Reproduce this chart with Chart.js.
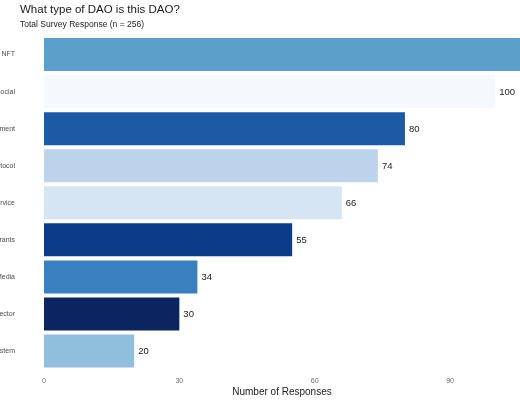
<!DOCTYPE html>
<html>
<head>
<meta charset="utf-8">
<script src="https://cdn.jsdelivr.net/npm/chart.js@4.4.1/dist/chart.umd.min.js"></script>
<style>
  html, body { margin: 0; padding: 0; background: #ffffff; overflow: hidden; }
  #wrap { position: relative; width: 520px; height: 400px; }
</style>
</head>
<body>
<div id="wrap"><canvas id="c" width="520" height="400"></canvas></div>
<script>
const categories = ["NFT", "Social", "Investment", "Protocol", "Service", "Grants", "Media", "Collector", "Ecosystem"];
const responses = [118, 100, 80, 74, 66, 55, 34, 30, 20];
const xTicks = [0, 30, 60, 90];
const barColors = ["#5b9fcb", "#f5f9fe", "#1c5aa5", "#bcd3eb", "#d5e5f4", "#0c3b89", "#3a7fbe", "#0b2560", "#90bfdd"];
const titleText = "What type of DAO is this DAO?";
const subtitleText = "Total Survey Response (n = 256)";

const FONT = "'Liberation Sans', Arial, Helvetica, sans-serif";

const headerPlugin = {
  id: 'header',
  afterDraw(chart) {
    const ctx = chart.ctx;
    ctx.save();
    ctx.textAlign = 'left';
    ctx.textBaseline = 'alphabetic';
    ctx.fillStyle = '#1a1a1a';
    ctx.font = "11.5px " + FONT;
    ctx.fillText(titleText, 20, 12.5);
    ctx.fillStyle = '#222222';
    ctx.font = "8.5px " + FONT;
    ctx.fillText(subtitleText, 20, 27);
    ctx.restore();
  }
};

const valueLabelPlugin = {
  id: 'valueLabels',
  afterDatasetsDraw(chart) {
    const ctx = chart.ctx;
    const area = chart.chartArea;
    const meta = chart.getDatasetMeta(0);
    ctx.save();
    ctx.font = "9.5px " + FONT;
    ctx.fillStyle = '#1a1a1a';
    ctx.textAlign = 'left';
    ctx.textBaseline = 'middle';
    meta.data.forEach((bar, i) => {
      const x = bar.x + 4;
      if (x + 4 < area.right) {
        ctx.fillText(String(responses[i]), x, bar.y + 0.5);
      }
    });
    ctx.restore();
  }
};

new Chart(document.getElementById('c'), {
  type: 'bar',
  data: {
    labels: categories,
    datasets: [{
      data: responses,
      backgroundColor: barColors,
      borderWidth: 0,
      barPercentage: 1.0,
      categoryPercentage: 0.89
    }]
  },
  options: {
    indexAxis: 'y',
    responsive: false,
    animation: false,
    devicePixelRatio: 1,
    layout: { padding: { top: 36, right: 0, bottom: 0, left: 0 } },
    plugins: {
      legend: { display: false },
      tooltip: { enabled: false },
      title: { display: false }
    },
    scales: {
      x: {
        type: 'linear',
        min: 0,
        max: 105.5,
        afterFit(scale) {
          scale.height = 30.4;
          scale.paddingLeft = 0;
          scale.paddingRight = 0;
        },
        afterBuildTicks(scale) { scale.ticks = xTicks.map(v => ({ value: v })); },
        grid: { display: false, drawTicks: false },
        border: { display: false },
        ticks: {
          padding: 7,
          color: '#6a6a6a',
          font: { family: FONT, size: 7 },
          maxRotation: 0,
          autoSkip: false
        },
        title: {
          display: true,
          text: 'Number of Responses',
          color: '#1a1a1a',
          font: { family: FONT, size: 10 },
          padding: { top: 0, bottom: 2 }
        }
      },
      y: {
        afterFit(scale) {
          scale.width = 44;
          scale.paddingTop = 0;
          scale.paddingBottom = 0;
        },
        grid: { display: false, drawTicks: false },
        border: { display: false },
        ticks: {
          padding: 29,
          color: '#4d4d4d',
          font: { family: FONT, size: 7 },
          autoSkip: false
        }
      }
    }
  },
  plugins: [headerPlugin, valueLabelPlugin]
});
</script>
</body>
</html>
